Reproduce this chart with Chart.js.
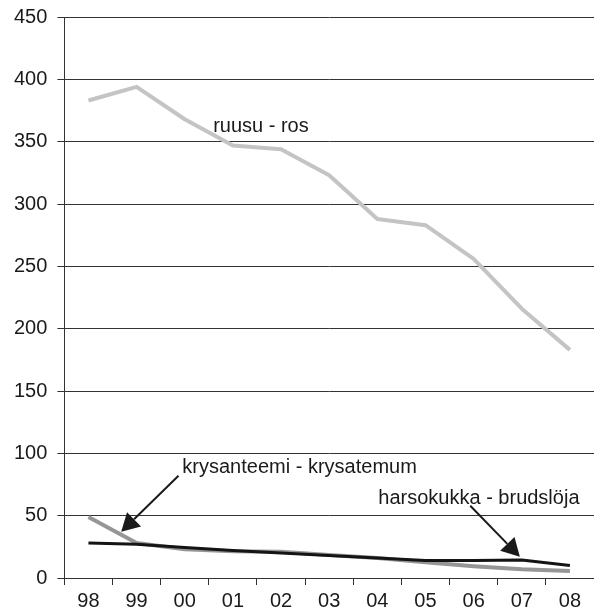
<!DOCTYPE html>
<html>
<head>
<meta charset="utf-8">
<script src="https://cdn.jsdelivr.net/npm/chart.js@4.4.1/dist/chart.umd.min.js"></script>
<style>
  html, body { margin: 0; padding: 0; background: #fff; }
  #wrap { width: 594px; height: 610px; }
</style>
</head>
<body>
<div id="wrap"><canvas id="kukat"></canvas></div>
<script>
// vuodet 1998-2008
var vuodet = ['98', '99', '00', '01', '02', '03', '04', '05', '06', '07', '08'];

var ruusu = [383, 394, 368, 347, 344, 323, 288, 283, 256, 216, 183];
var krysanteemi = [49, 28, 23, 21.5, 21, 18.5, 16, 12.6, 9.5, 7, 5.6];
var harsokukka = [28, 27, 24.5, 22, 20, 18, 16, 14, 14, 14.4, 10];

// tekstit ja nuolet (x = vuoden indeksi, y = arvo)
var tekstit = [
    { text: 'ruusu - ros', x: 2.59, y: 362, align: 'left' },
    { text: 'krysanteemi - krysatemum', x: 1.95, y: 89, align: 'left' },
    { text: 'harsokukka - brudslöja', x: 6.02, y: 64, align: 'left' }
];
var nuolet = [
    { from: [1.87, 82], to: [0.68, 37] },
    { from: [7.93, 58], to: [8.96, 17] }
];

var fontti = 'Liberation Sans, Arial, sans-serif';

var merkinnat = {
    id: 'merkinnat',
    afterDatasetsDraw: function (chart) {
        var ctx = chart.ctx;
        var xs = chart.scales.x, ys = chart.scales.y;
        ctx.save();
        ctx.fillStyle = '#1a1a1a';
        ctx.font = '20px ' + fontti;
        ctx.textBaseline = 'middle';
        tekstit.forEach(function (t) {
            ctx.textAlign = t.align;
            ctx.fillText(t.text, xs.getPixelForValue(t.x), ys.getPixelForValue(t.y));
        });
        ctx.strokeStyle = '#1a1a1a';
        ctx.lineWidth = 2;
        nuolet.forEach(function (n) {
            var x1 = xs.getPixelForValue(n.from[0]), y1 = ys.getPixelForValue(n.from[1]);
            var x2 = xs.getPixelForValue(n.to[0]), y2 = ys.getPixelForValue(n.to[1]);
            var a = Math.atan2(y2 - y1, x2 - x1);
            var len = 18, w = 10;
            var bx = x2 - len * Math.cos(a), by = y2 - len * Math.sin(a);
            ctx.beginPath();
            ctx.moveTo(x1, y1);
            ctx.lineTo(bx, by);
            ctx.stroke();
            ctx.beginPath();
            ctx.moveTo(x2, y2);
            ctx.lineTo(bx + w * Math.sin(a), by - w * Math.cos(a));
            ctx.lineTo(bx - w * Math.sin(a), by + w * Math.cos(a));
            ctx.closePath();
            ctx.fill();
        });
        ctx.restore();
    }
};

new Chart(document.getElementById('kukat'), {
    type: 'line',
    data: {
        labels: vuodet,
        datasets: [
            { label: 'harsokukka - brudslöja', data: harsokukka, borderColor: '#141414', borderWidth: 3, order: 1 },
            { label: 'krysanteemi - krysatemum', data: krysanteemi, borderColor: '#969696', borderWidth: 4, order: 2 },
            { label: 'ruusu - ros', data: ruusu, borderColor: '#c4c4c4', borderWidth: 4, order: 3 }
        ]
    },
    options: {
        responsive: true,
        maintainAspectRatio: false,
        animation: false,
        layout: { padding: { top: 0, left: 4, right: 0, bottom: -7 } },
        elements: {
            point: { radius: 0 },
            line: { tension: 0, borderCapStyle: 'butt', borderJoinStyle: 'round' }
        },
        plugins: {
            legend: { display: false },
            tooltip: { enabled: false }
        },
        scales: {
            x: {
                offset: true,
                grid: { offset: true, drawOnChartArea: false, drawTicks: true, tickLength: 7, color: '#333' },
                border: { color: '#333' },
                ticks: { color: '#1a1a1a', padding: 4, font: { family: fontti, size: 20 }, maxRotation: 0 }
            },
            y: {
                min: 0,
                max: 450,
                ticks: { stepSize: 50, color: '#1a1a1a', padding: 10, font: { family: fontti, size: 20, lineHeight: 0.7 } },
                grid: { color: '#333', tickLength: 7 },
                border: { color: '#333' }
            }
        }
    },
    plugins: [merkinnat]
});
</script>
</body>
</html>
